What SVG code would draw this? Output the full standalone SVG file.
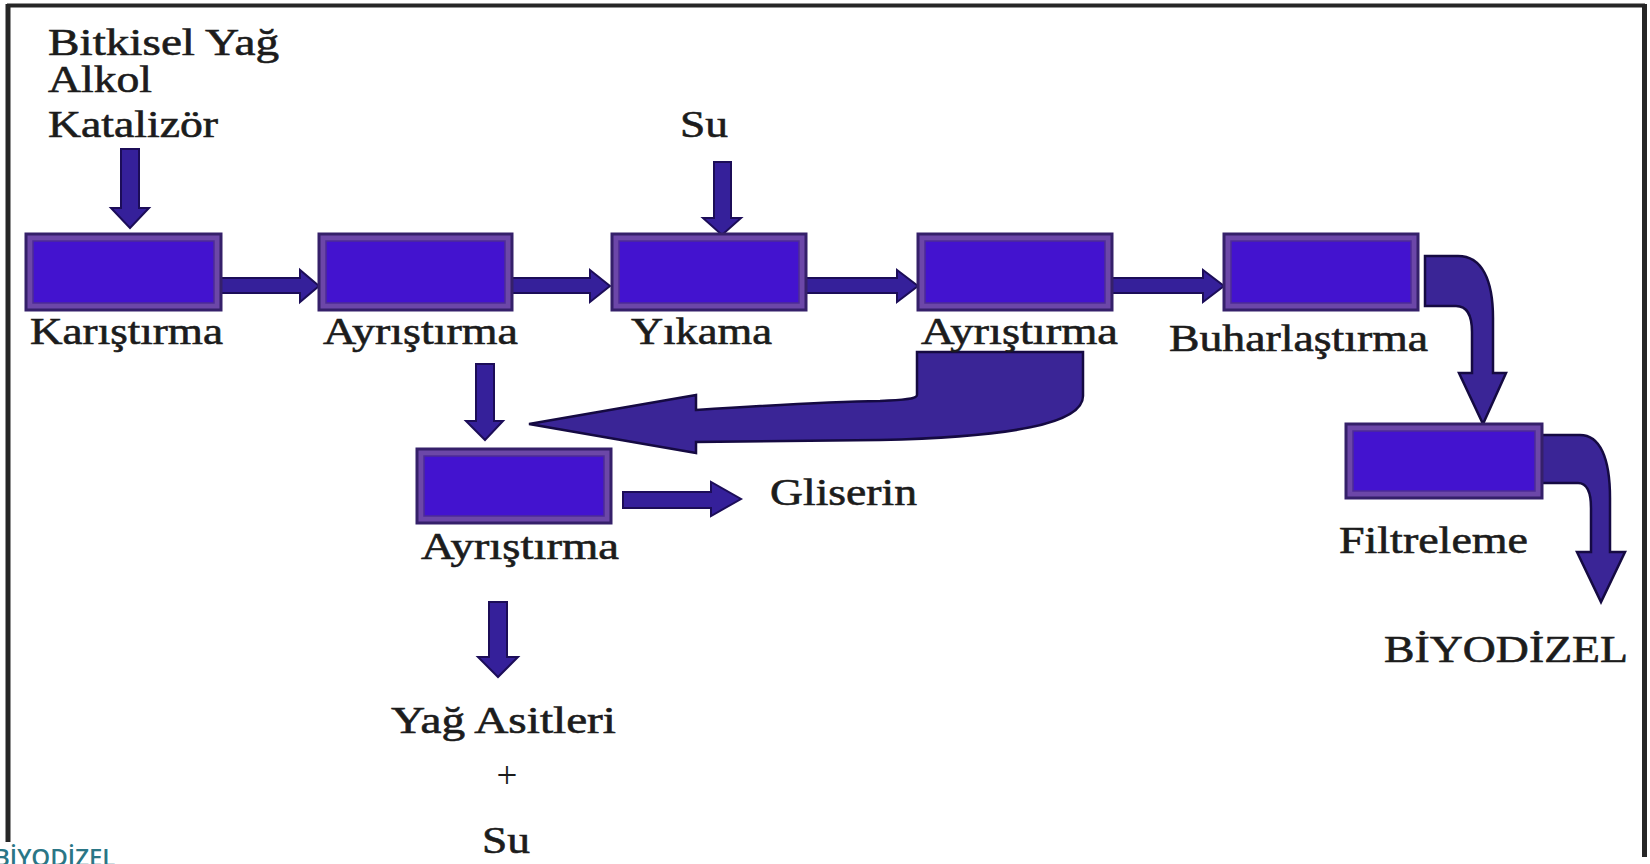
<svg xmlns="http://www.w3.org/2000/svg" width="1650" height="864" viewBox="0 0 1650 864">
<style>
.box-outer{fill:#6c47a8;stroke:#35206a;stroke-width:3}
.box-inner{fill:#4313cf;stroke:#4d2d96;stroke-width:1.5}
.arrow{fill:#35209a;stroke:#1c0d58;stroke-width:2;stroke-linejoin:miter}
.big{fill:#3a2596;stroke:#150a42;stroke-width:2.5}
.lbl{font-family:"Liberation Serif","Times New Roman",serif;font-size:37px;fill:#1c1c1c;stroke:#1c1c1c;stroke-width:0.6}
.frame{stroke:#262626;fill:none}
</style>
<rect x="0" y="0" width="1650" height="864" fill="#ffffff"/>
<g id="frame">
<line class="frame" x1="7" y1="5.5" x2="1645" y2="5.5" stroke-width="4"/>
<line class="frame" x1="8" y1="4" x2="8" y2="842" stroke-width="5"/>
<line class="frame" x1="1644.5" y1="4" x2="1644.5" y2="857" stroke-width="5"/>
</g>
<g id="connectors">
<polygon class="arrow" points="121,149 139,149 139,208 149,208 130,228 111,208 121,208"/>
<polygon class="arrow" points="714,162 731,162 731,218 741,218 722,235 703,218 714,218"/>
<polygon class="arrow" points="221,278 300,278 300,270 319,286 300,302 300,293 221,293"/>
<polygon class="arrow" points="512,278 590,278 590,270 610,286 590,302 590,293 512,293"/>
<polygon class="arrow" points="806,278 897,278 897,270 918,286 897,302 897,293 806,293"/>
<polygon class="arrow" points="1112,278 1203,278 1203,270 1224,286 1203,302 1203,293 1112,293"/>
<polygon class="arrow" points="476,364 494,364 494,421 503,421 485,440 466,421 476,421"/>
<polygon class="arrow" points="489,602 507,602 507,657 518,657 498,677 478,657 489,657"/>
<polygon class="arrow" points="623,492 711,492 711,482 741,499 711,516 711,508 623,508"/>
<path class="big" d="M917,352 L1083,352 L1083,396 C1083,424 1010,437 880,440 L696,442 L696,453 L529,424 L696,395 L696,410 Q820,402 880,401 C905,400 917,399 917,395 Z"/>
<path class="big" d="M1425,256 L1458,256 C1482,256 1493,280 1493,318 L1493,373 L1506,373 L1483,424 L1459,373 L1472,373 L1472,332 C1472,314 1466,306 1456,306 L1425,306 Z"/>
<path class="big" d="M1540,435 L1580,435 C1600,435 1610,458 1610,498 L1610,552 L1625,552 L1601,602 L1577,552 L1591,552 L1591,508 C1591,492 1587,483 1578,483 L1540,483 Z"/>
</g>
<g id="node-karistirma">
<rect class="box-outer" x="26" y="234" width="195" height="76"/>
<rect class="box-inner" x="33" y="241" width="181" height="62"/>
<text class="lbl" x="30" y="344" textLength="193" lengthAdjust="spacingAndGlyphs">Karıştırma</text>
</g>
<g id="node-ayristirma1">
<rect class="box-outer" x="319" y="234" width="193" height="76"/>
<rect class="box-inner" x="326" y="241" width="179" height="62"/>
<text class="lbl" x="323" y="344" textLength="195" lengthAdjust="spacingAndGlyphs">Ayrıştırma</text>
</g>
<g id="node-yikama">
<rect class="box-outer" x="612" y="234" width="194" height="76"/>
<rect class="box-inner" x="619" y="241" width="180" height="62"/>
<text class="lbl" x="631" y="344" textLength="141" lengthAdjust="spacingAndGlyphs">Yıkama</text>
</g>
<g id="node-ayristirma2">
<rect class="box-outer" x="918" y="234" width="194" height="76"/>
<rect class="box-inner" x="925" y="241" width="180" height="62"/>
<text class="lbl" x="921" y="344" textLength="197" lengthAdjust="spacingAndGlyphs">Ayrıştırma</text>
</g>
<g id="node-buharlastirma">
<rect class="box-outer" x="1224" y="234" width="194" height="76"/>
<rect class="box-inner" x="1231" y="241" width="180" height="62"/>
<text class="lbl" x="1169" y="351" textLength="259" lengthAdjust="spacingAndGlyphs">Buharlaştırma</text>
</g>
<g id="node-filtreleme">
<rect class="box-outer" x="1346" y="424" width="196" height="74"/>
<rect class="box-inner" x="1353" y="431" width="182" height="60"/>
<text class="lbl" x="1339" y="553" textLength="189" lengthAdjust="spacingAndGlyphs">Filtreleme</text>
</g>
<g id="node-ayristirma3">
<rect class="box-outer" x="417" y="449" width="194" height="74"/>
<rect class="box-inner" x="424" y="456" width="180" height="60"/>
<text class="lbl" x="421" y="559" textLength="198" lengthAdjust="spacingAndGlyphs">Ayrıştırma</text>
</g>
<g id="node-inputs">
<text class="lbl" x="48" y="55" textLength="231" lengthAdjust="spacingAndGlyphs">Bitkisel Yağ</text>
<text class="lbl" x="48" y="92" textLength="104" lengthAdjust="spacingAndGlyphs">Alkol</text>
<text class="lbl" x="48" y="137" textLength="170" lengthAdjust="spacingAndGlyphs">Katalizör</text>
</g>
<g id="node-su">
<text class="lbl" x="680" y="137" textLength="48" lengthAdjust="spacingAndGlyphs">Su</text>
</g>
<g id="node-gliserin">
<text class="lbl" x="770" y="505" textLength="147" lengthAdjust="spacingAndGlyphs">Gliserin</text>
</g>
<g id="node-yag-asitleri">
<text class="lbl" x="391" y="733" textLength="225" lengthAdjust="spacingAndGlyphs">Yağ Asitleri</text>
<text class="lbl" x="507" y="788" text-anchor="middle" style="stroke-width:0">+</text>
<text class="lbl" x="482" y="853" textLength="48" lengthAdjust="spacingAndGlyphs">Su</text>
</g>
<g id="node-biyodizel">
<text class="lbl" x="1384" y="662" textLength="244" lengthAdjust="spacingAndGlyphs">BİYODİZEL</text>
</g>
<g id="footer">
<text x="-6" y="866" font-family="'Open Sans','Noto Sans',sans-serif" font-weight="600" font-size="24" fill="#2a7686">BİYODİZEL</text>
</g>
</svg>
